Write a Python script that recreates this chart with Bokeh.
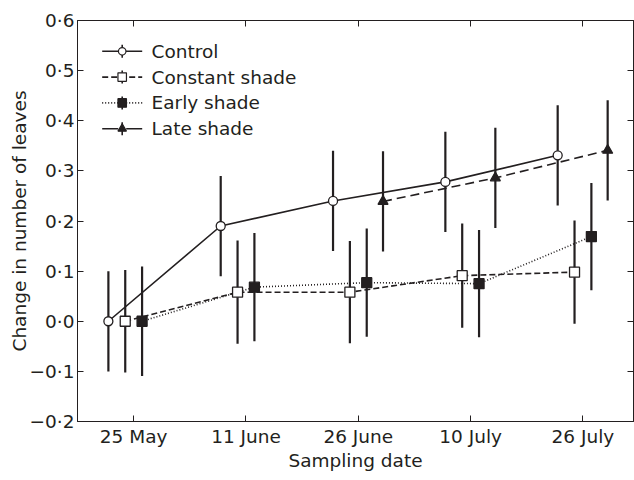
import numpy as np
from bokeh.plotting import figure
from bokeh.models import (ColumnDataSource, FixedTicker, CustomJSTickFormatter,
                          LinearAxis, Range1d)
from bokeh.embed import file_html
from bokeh.resources import INLINE
from bokeh.core.properties import value

# ---------------- data ----------------
dates = ["25 May", "11 June", "26 June", "10 July", "26 July"]
date_idx = [0, 1, 2, 3, 4]

control = [0.000, 0.190, 0.240, 0.278, 0.331]
control_err = [0.100, 0.100, 0.100, 0.100, 0.100]

constant = [0.000, 0.058, 0.058, 0.091, 0.098]
constant_err = [0.102, 0.103, 0.102, 0.104, 0.103]

early = [0.000, 0.068, 0.077, 0.075, 0.169]
early_err = [0.109, 0.108, 0.108, 0.107, 0.107]

late_idx = [2, 3, 4]
late = [0.239, 0.286, 0.341]
late_err = [0.100, 0.100, 0.100]

y_ticks = [-0.2, -0.1, 0.0, 0.1, 0.2, 0.3, 0.4, 0.5, 0.6]

# ---------------- style / layout ----------------
INK = "#231f20"
FONT = "DejaVu Sans"
FS = "18.5px"
W, H = 634, 480
BL, BR, BT, BB = 77, 1, 20, 59
X0, X1 = -0.5, 4.45
Y0, Y1 = -0.2, 0.6

series = [
    # name, idx, vals, errs, dodge, dash, legend dash, marker, fill, size
    ("Control", date_idx, control, control_err, -0.225, "solid", "solid", "circle", "white", 9),
    ("Constant shade", date_idx, constant, constant_err, -0.075, "6 3", "6 3", "square", "white", 10),
    ("Early shade", date_idx, early, early_err, 0.075, "1 2", "1 2", "square", INK, 10),
    ("Late shade", late_idx, late, late_err, 0.22, "9 5", "16 8", "triangle", INK, 10),
]

p = figure(width=W, height=H, x_range=Range1d(X0, X1), y_range=Range1d(Y0, Y1),
           output_backend="svg", toolbar_location=None,
           min_border_left=BL, min_border_right=BR, min_border_top=BT, min_border_bottom=BB,
           background_fill_color="white", border_fill_color="white")
p.grid.visible = False
p.outline_line_color = INK
p.outline_line_width = 1

ytick_fmt = CustomJSTickFormatter(code="""
    const s = Math.abs(tick).toFixed(1).replace('.', '\\u00b7');
    return (tick < -1e-9 ? '\\u2212' : '') + s;
""")

def style_axis(ax, labels=True):
    ax.axis_line_color = INK
    ax.major_tick_line_color = INK
    ax.major_tick_in = 6
    ax.major_tick_out = 0
    ax.minor_tick_line_color = None
    ax.major_label_text_font = FONT
    ax.major_label_text_font_size = FS
    if labels:
        ax.major_label_text_color = INK
    else:
        ax.major_label_text_color = None
        ax.major_label_standoff = 0
    ax.axis_label_text_font = FONT
    ax.axis_label_text_font_size = FS
    ax.axis_label_text_font_style = "normal"
    ax.axis_label_text_color = INK

xax = p.xaxis[0]
xax.ticker = FixedTicker(ticks=date_idx)
xax.major_label_overrides = {i: d for i, d in zip(date_idx, dates)}
xax.axis_label = "Sampling date"
style_axis(xax)
xax.major_label_standoff = 4
xax.axis_label_standoff = 0

yax = p.yaxis[0]
yax.ticker = FixedTicker(ticks=y_ticks)
yax.formatter = ytick_fmt
yax.axis_label = "Change in number of leaves"
style_axis(yax)
yax.major_label_standoff = 3
yax.axis_label_standoff = -3

top = LinearAxis(ticker=FixedTicker(ticks=date_idx))
style_axis(top, labels=False)
p.add_layout(top, "above")
right = LinearAxis(ticker=FixedTicker(ticks=y_ticks))
style_axis(right, labels=False)
p.add_layout(right, "right")

# ---------------- data marks ----------------
for name, idx, vals, errs, dx, dash, ldash, marker, fill, size in series:
    xs = np.array(idx, dtype=float) + dx
    v = np.array(vals)
    e = np.array(errs)
    src = ColumnDataSource(dict(x=xs, y=v, lo=v - e, hi=v + e))
    p.line("x", "y", source=src, line_color=INK, line_width=1.6, line_dash=dash)
    p.segment("x", "lo", "x", "hi", source=src, line_color=INK, line_width=2.2)

for name, idx, vals, errs, dx, dash, ldash, marker, fill, size in series:
    xs = np.array(idx, dtype=float) + dx
    src = ColumnDataSource(dict(x=xs, y=vals))
    p.scatter("x", "y", source=src, marker=marker, size=size,
              fill_color=fill, line_color=INK, line_width=1.3)

# ---------------- legend (drawn by hand, positioned in frame pixels) ----------------
FW = W - BL - BR
FH = H - BT - BB
def px_x(dx_px):
    return X0 + dx_px * (X1 - X0) / FW
def px_y(dy_px):
    return Y1 - dy_px * (Y1 - Y0) / FH

row0, row_step = 30.8, 25.8
line_l, line_r, mark_c, text_l = 24.7, 64.7, 44.7, 74.0
tick_half = 6.5
for k, (name, idx, vals, errs, dx, dash, ldash, marker, fill, size) in enumerate(series):
    yy = px_y(row0 + k * row_step)
    ytop = px_y(row0 + k * row_step - tick_half)
    ybot = px_y(row0 + k * row_step + tick_half)
    p.segment(x0=[px_x(line_l)], y0=[yy], x1=[px_x(line_r)], y1=[yy],
              line_color=INK, line_width=1.6, line_dash=ldash)
    p.segment(x0=[px_x(mark_c)], y0=[ybot], x1=[px_x(mark_c)], y1=[ytop],
              line_color=INK, line_width=1.6)
    p.scatter(x=[px_x(mark_c)], y=[yy], marker=marker, size=size - 1.5,
              fill_color=fill, line_color=INK, line_width=1.2)
    p.text(x=[px_x(text_l)], y=[yy], text=[name], text_font=value(FONT),
           text_font_size=FS, text_baseline="middle", text_align="left",
           text_color=INK)

open("out.html", "w").write(file_html(p, INLINE))
